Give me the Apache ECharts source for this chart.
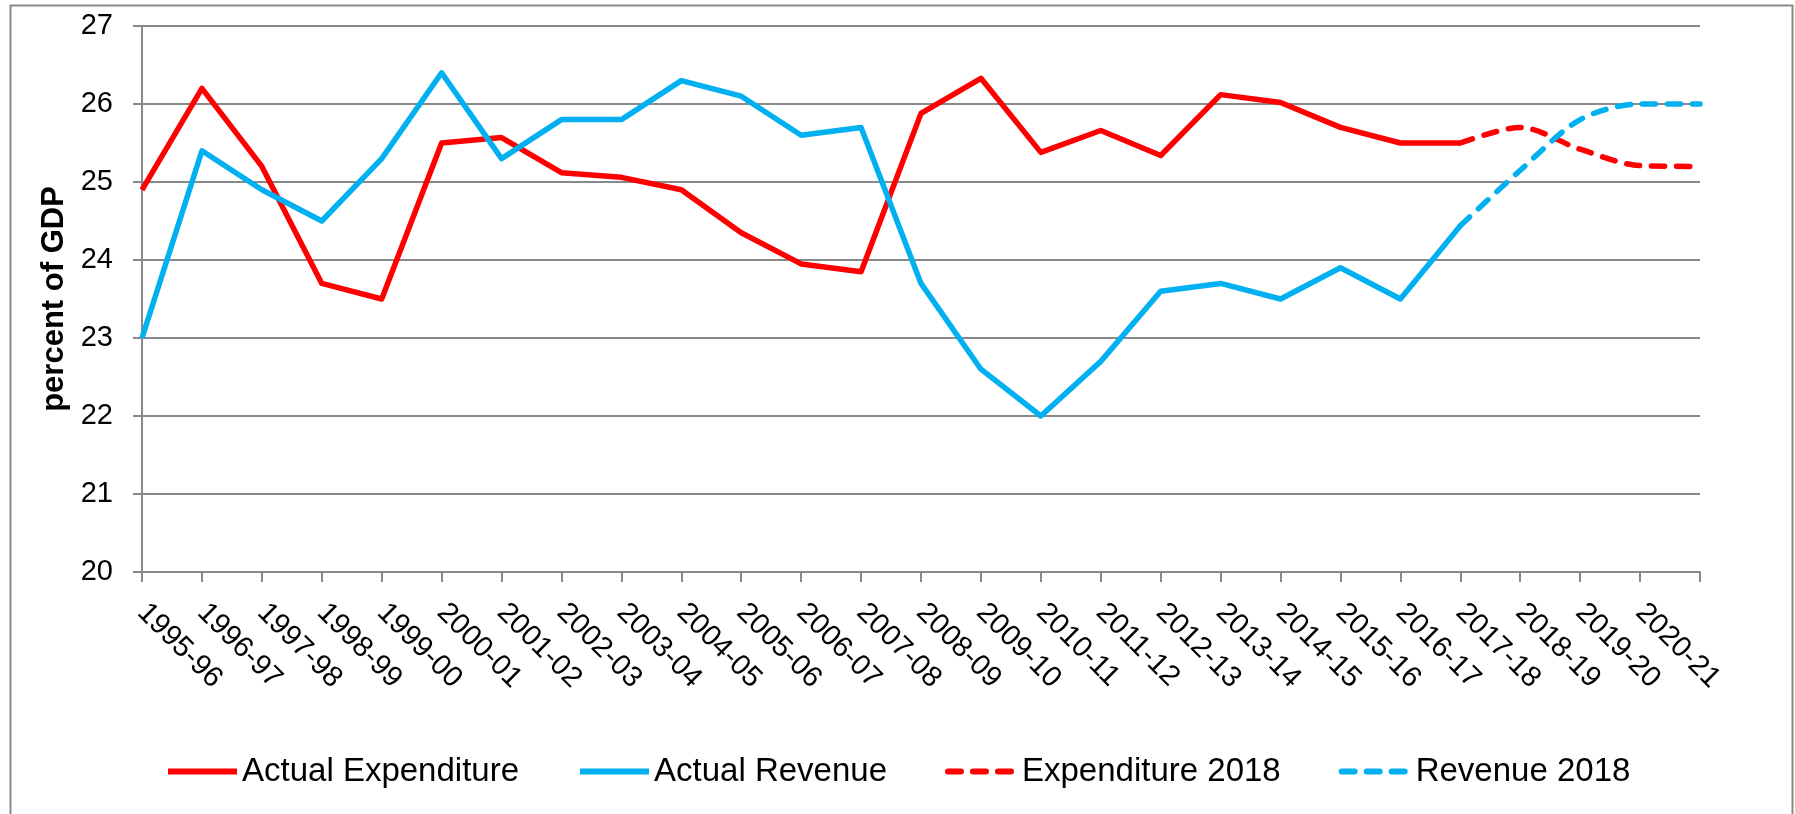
<!DOCTYPE html>
<html>
<head>
<meta charset="utf-8">
<script src="https://cdn.jsdelivr.net/npm/echarts@6/dist/echarts.min.js"></script>
<style>
  html, body { margin: 0; padding: 0; background: #fff; }
  #chart { width: 1795px; height: 814px; }
</style>
</head>
<body>
<div id="chart"></div>
<script>
var years = ['1995-96', '1996-97', '1997-98', '1998-99', '1999-00', '2000-01', '2001-02', '2002-03',
  '2003-04', '2004-05', '2005-06', '2006-07', '2007-08', '2008-09', '2009-10', '2010-11', '2011-12',
  '2012-13', '2013-14', '2014-15', '2015-16', '2016-17', '2017-18', '2018-19', '2019-20', '2020-21', ''];

var actualExpenditure = [24.9, 26.2, 25.2, 23.7, 23.5, 25.5, 25.57, 25.12, 25.06, 24.9, 24.35, 23.95, 23.85,
  25.88, 26.33, 25.38, 25.66, 25.34, 26.12, 26.02, 25.7, 25.5, 25.5, null, null, null, null];
var actualRevenue = [23.0, 25.4, 24.9, 24.5, 25.3, 26.4, 25.3, 25.8, 25.8, 26.3, 26.1, 25.6, 25.7,
  23.7, 22.6, 22.0, 22.7, 23.6, 23.7, 23.5, 23.9, 23.5, 24.44, null, null, null, null];
var expenditure2018 = [null, null, null, null, null, null, null, null, null, null, null, null, null,
  null, null, null, null, null, null, null, null, null, 25.5, 25.7, 25.42, 25.21, 25.2];
var revenue2018 = [null, null, null, null, null, null, null, null, null, null, null, null, null,
  null, null, null, null, null, null, null, null, null, 24.44, 25.15, 25.8, 26.0, 26.0];

var yTicks = [20, 21, 22, 23, 24, 25, 26, 27];

var RED = '#ff0000';
var BLUE = '#00b0f0';
var GREY = '#898989';
var FONT = 'Liberation Sans';

var myChart = echarts.init(document.getElementById('chart'));

var option = {
  animation: false,
  textStyle: { fontFamily: FONT },
  graphic: [
    {
      type: 'rect',
      shape: { x: 10.5, y: 5.5, width: 1782, height: 830 },
      style: { fill: 'none', stroke: GREY, lineWidth: 2 },
      silent: true
    }
  ],
  grid: { left: 142, right: 95, top: 26, bottom: 242 },
  legend: {
    left: 160,
    top: 750,
    itemWidth: 69,
    itemHeight: 14,
    itemGap: 58,
    lineStyle: { width: 6 },
    itemStyle: { opacity: 0, borderWidth: 0 },
    textStyle: { fontFamily: FONT, fontSize: 33, color: '#000' },
    data: ['Actual Expenditure', 'Actual Revenue', 'Expenditure 2018', 'Revenue 2018']
  },
  xAxis: {
    type: 'category',
    boundaryGap: false,
    data: years,
    axisLine: { lineStyle: { color: GREY, width: 2 } },
    axisTick: { show: true, interval: 0, length: 10, lineStyle: { color: GREY, width: 2 } },
    axisLabel: {
      interval: 0,
      rotate: -45,
      margin: 36,
      fontSize: 29,
      fontFamily: FONT,
      color: '#000'
    },
    splitLine: { show: false }
  },
  yAxis: {
    type: 'value',
    min: yTicks[0],
    max: yTicks[yTicks.length - 1],
    interval: 1,
    name: 'percent of GDP',
    nameLocation: 'middle',
    nameGap: 70,
    nameTextStyle: { fontFamily: FONT, fontSize: 31, fontWeight: 'bold', color: '#000' },
    axisLine: { show: true, lineStyle: { color: GREY, width: 2 } },
    axisTick: { show: true, length: 9, lineStyle: { color: GREY, width: 2 } },
    axisLabel: { margin: 29, fontSize: 29, fontFamily: FONT, color: '#000' },
    splitLine: { show: true, lineStyle: { color: GREY, width: 2 } }
  },
  series: [
    {
      name: 'Actual Expenditure',
      type: 'line',
      data: actualExpenditure,
      symbol: 'none',
      color: RED,
      lineStyle: { color: RED, width: 5.5, join: 'round' }
    },
    {
      name: 'Actual Revenue',
      type: 'line',
      data: actualRevenue,
      symbol: 'none',
      color: BLUE,
      lineStyle: { color: BLUE, width: 5.5, join: 'round' }
    },
    {
      name: 'Expenditure 2018',
      type: 'line',
      data: expenditure2018,
      symbol: 'none',
      smooth: 0.3,
      color: RED,
      lineStyle: { color: RED, width: 5.5, type: [13, 12], cap: 'round' }
    },
    {
      name: 'Revenue 2018',
      type: 'line',
      data: revenue2018,
      symbol: 'none',
      smooth: 0.3,
      color: BLUE,
      lineStyle: { color: BLUE, width: 5.5, type: [13, 12], cap: 'round' }
    }
  ]
};

myChart.setOption(option);
</script>
</body>
</html>
